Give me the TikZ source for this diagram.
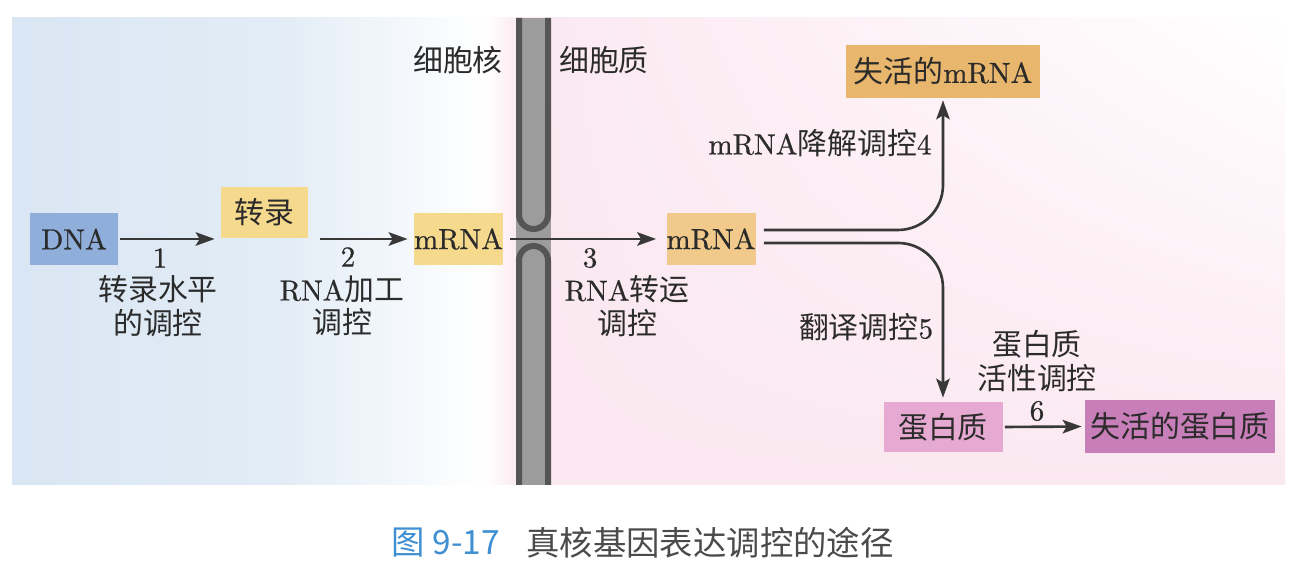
\documentclass[tikz,border=0pt]{standalone}
\usepackage{fontspec}
\usetikzlibrary{positioning}
\usetikzlibrary{calc}
\usetikzlibrary{arrows.meta}
\usetikzlibrary{shadings}
\setmainfont{lmroman10-regular.otf}[FakeBold=0.7]
\newfontfamily\cjk[Scale=1.03]{Noto Sans CJK SC}
\newfontfamily\capfont{Noto Sans CJK SC}
\newcommand{\zh}[1]{{\cjk #1}}
\definecolor{txt}{HTML}{2B2B2B}
\definecolor{arr}{HTML}{383838}
\definecolor{dnablue}{HTML}{8FAEDA}
\definecolor{rnayellow}{HTML}{F5D98C}
\definecolor{rnaorange}{HTML}{F1C98A}
\definecolor{deadrna}{HTML}{E8B66C}
\definecolor{protpink}{HTML}{E6AAD2}
\definecolor{deadprot}{HTML}{C87EB8}
\definecolor{bluebg}{HTML}{D9E6F3}
\definecolor{pinkbg}{HTML}{FBE8F0}
\definecolor{memdark}{HTML}{555555}
\definecolor{memgray}{HTML}{9C9C9C}
\definecolor{capblue}{HTML}{3F8FD2}

\begin{document}
\begin{tikzpicture}[
    box/.style={inner sep=0pt, minimum height=1.04cm, text=txt, font=\fontsize{16.5}{19}\selectfont},
    flow/.style={draw=arr, line width=1.5pt, -{Stealth[length=0.38cm, width=0.27cm, inset=0.08cm]}},
    lbl/.style={text=txt, align=center, font=\fontsize{16.5}{19}\selectfont},
    capt/.style={font=\capfont\fontsize{19}{23}\selectfont}
]
    \useasboundingbox (0,0) rectangle (25.78,11.24);

    % background: nucleus / cytoplasm
    \shade[left color=bluebg, right color=bluebg!75] (0.24,1.54) rectangle (5.6,10.88);
    \shade[left color=bluebg!75, right color=white] (5.6,1.54) rectangle (9.7,10.88);
    \shade[left color=white, right color=pinkbg] (9.7,1.54) rectangle (10.4,10.88);
    \shade[upper left=pinkbg, lower left=pinkbg, lower right=pinkbg, upper right=white]
        (10.4,1.54) rectangle (25.7,10.88);

    % nuclear envelope with pore
    \fill[memgray] (10.32,1.54) rectangle (11.02,10.88);
    \draw[memdark, line width=0.12cm] (10.38,10.88) -- (10.38,6.95)
        arc[start angle=180, end angle=360, radius=0.29] -- (10.96,10.88);
    \draw[memdark, line width=0.12cm] (10.38,1.54) -- (10.38,6.03)
        arc[start angle=180, end angle=0, radius=0.29] -- (10.96,1.54);

    \node[lbl] (nuc) at (9.16,10.04) {\zh{细胞核}};
    \node[lbl] (cyt) at (12.08,10.04) {\zh{细胞质}};

    \node[box, fill=dnablue, minimum width=1.76cm] (dna) at (1.48,6.46) {DNA};
    \node[box, fill=rnayellow, minimum width=1.74cm, minimum height=1.02cm] (zl) at (5.29,6.99) {\zh{转录}};
    \node[box, fill=rnayellow, minimum width=1.78cm] (mrna1) at (9.17,6.46) {mRNA};
    \node[box, fill=rnaorange, minimum width=1.76cm] (mrna2) at (14.22,6.46) {mRNA};
    \node[box, fill=deadrna, minimum width=3.88cm, minimum height=1.06cm] (deadm) at (18.86,9.81) {\zh{失活的}mRNA};
    \node[box, fill=protpink, minimum width=2.38cm, minimum height=1.0cm] (prot) at (18.86,2.70) {\zh{蛋白质}};
    \node[box, fill=deadprot, minimum width=3.8cm, minimum height=1.06cm] (deadp) at (23.6,2.71) {\zh{失活的蛋白质}};

    \draw[flow, shorten <=0.04cm, shorten >=0.12cm] (dna.east) -- (dna.east -| zl.west);
    \draw[flow, shorten <=0.24cm, shorten >=0.12cm] (zl.east |- mrna1) -- (mrna1.west);
    \draw[flow, shorten <=0.14cm, shorten >=0.2cm] (mrna1.east) -- (mrna2.west);

    \coordinate (b1) at ($(mrna2.east)+(0.16,0.18)$);
    \coordinate (b2) at ($(mrna2.east)+(0.16,-0.08)$);
    \draw[flow, rounded corners=0.9cm, shorten >=0.04cm] (b1) -| (deadm.south);
    \draw[flow, rounded corners=0.9cm, shorten >=0.08cm] (b2) -| (prot.north);
    \draw[flow, shorten <=0.04cm, shorten >=0.06cm] (prot.east) -- (deadp.west);

    \node[lbl] (n1) at (3.2,6.08) {1};
    \node[lbl] (t1) at (3.16,5.12) {\zh{转录水平}\\\zh{的调控}};
    \node[lbl] (n2) at (6.96,6.1) {2};
    \node[lbl] (t2) at (6.84,5.12) {RNA\zh{加工}\\\zh{调控}};
    \node[lbl] (n3) at (11.8,6.08) {3};
    \node[lbl] (t3) at (12.54,5.12) {RNA\zh{转运}\\\zh{调控}};
    \node[lbl] (t4) at (16.4,8.38) {mRNA\zh{降解调控}4};
    \node[lbl] (t5) at (17.32,4.7) {\zh{翻译调控}5};
    \node[lbl] (t6) at (20.74,4.02) {\zh{蛋白质}\\\zh{活性调控}};
    \node[lbl] (n6) at (20.74,3.02) {6};

    \node[capt, text=capblue] (fig) at (8.92,0.38) {图 9-17};
    \node[capt, text=txt!85] (cap) at (14.2,0.38) {真核基因表达调控的途径};
\end{tikzpicture}
\end{document}
